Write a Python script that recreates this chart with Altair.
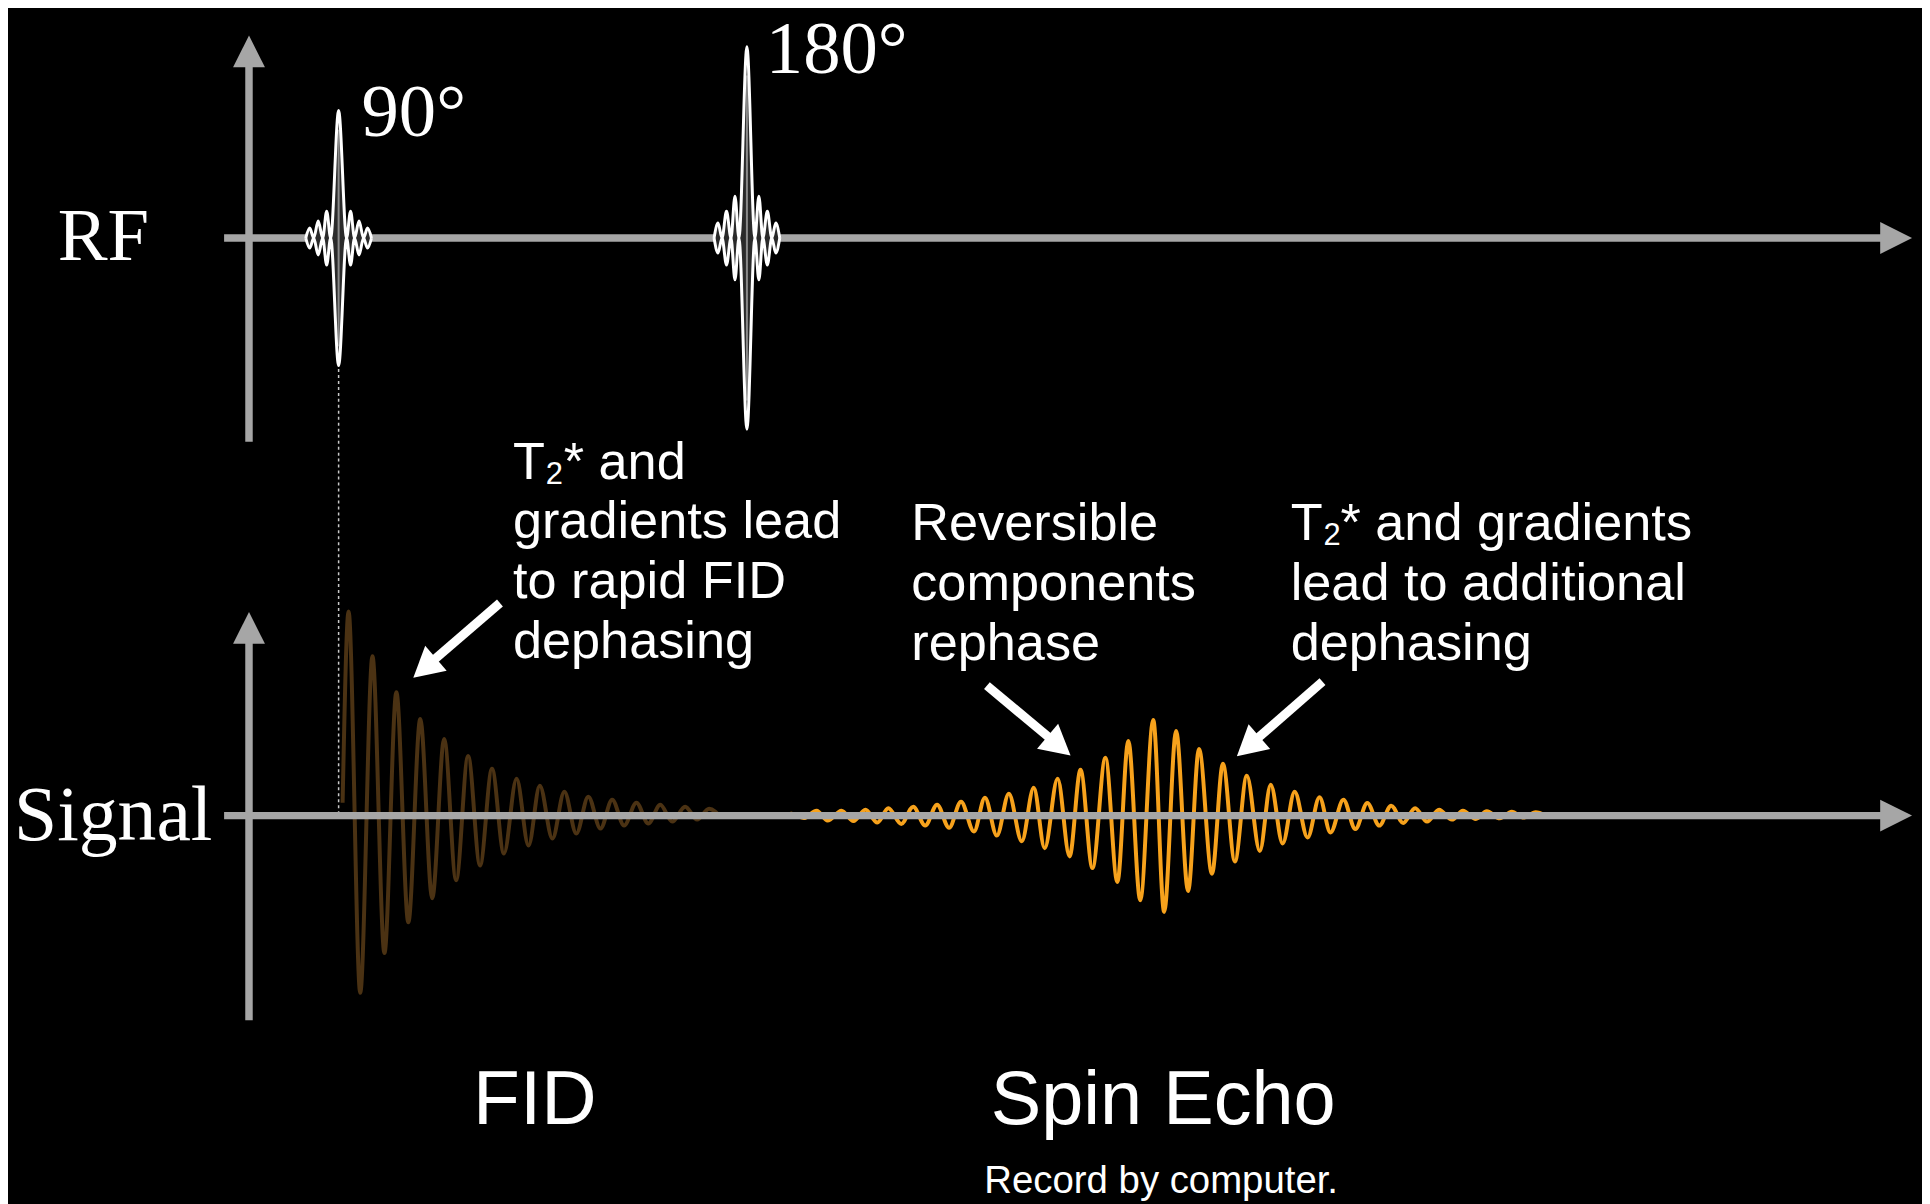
import altair as alt
import numpy as np
import pandas as pd

# ---------------- values ----------------
# FID: extremum times and amplitudes (relative to the Signal baseline, up = +)
fid_time = [344, 350, 361.7, 374, 386, 398, 410, 422, 434, 446, 458, 470, 482, 494, 506,
            518.7, 530.7, 542, 554.7, 566.7, 578.7, 590.7, 603, 614.7, 626.7, 639, 651,
            663, 675, 688, 700, 712, 724]
fid_amplitude = [13, 205, -178, 160, -138, 124, -107, 97, -83, 77, -65, 60, -50, 47, -38,
                 37, -30, 30, -23, 24, -18, 19, -13, 16, -10, 13, -8, 11, -6, 9, -4, 7, -2]

# Spin echo: extremum times and amplitudes
echo_time = [783, 795, 807, 820, 831, 845, 857, 869, 881, 892, 905, 917, 929, 941, 953, 965,
             978, 989, 1001, 1013, 1026, 1038, 1049, 1062, 1074, 1085, 1097, 1110, 1122,
             1133, 1145, 1158, 1169, 1181, 1193, 1204, 1217, 1228, 1240, 1252, 1265, 1276,
             1288, 1300, 1313, 1325, 1336, 1349, 1361, 1373, 1385, 1397, 1409, 1421, 1433,
             1445, 1458, 1469, 1482, 1493, 1506, 1518, 1530, 1542, 1552]
echo_amplitude = [0, 2, -2.5, 5, -5, 5, -5.5, 6, -7, 7.5, -8.3, 9, -10, 11, -12.3, 14,
                  -16, 18, -20, 22, -25.7, 28, -32.7, 37, -41, 46, -52.7, 58, -66.7,
                  75, -85, 96, -96.7, 85, -75.7, 67, -58.3, 52, -46, 40, -35.5, 31,
                  -28, 24, -22, 18.5, -17, 16, -13.5, 12.7, -10, 10, -7.3, 7.5, -6,
                  6, -4, 5, -3.3, 4.3, -2.7, 4, -2, 3.3, 0]

# RF pulses: envelope (lobe peaks and zeros) around each pulse centre
pulse_offset = [-33, -29, -25, -20.5, -16, -12, -8, 0, 8, 12, 16, 20.5, 25, 29, 33]
pulse90_envelope = [0, 10, 0, 17, 0, 27, 0, 128, 0, 27, 0, 17, 0, 10, 0]
pulse180_envelope = [0, 15, 0, 27, 0, 42, 0, 192, 0, 42, 0, 27, 0, 15, 0]
pulse_time = [340, 750]
pulse_names = ["90°", "180°"]

row_names = ["RF", "Signal"]
note_fid = ["gradients lead", "to rapid FID", "dephasing"]
note_rev = ["Reversible", "components", "rephase"]
note_add = ["lead to additional", "dephasing"]
captions = ["FID", "Spin Echo", "Record by computer."]

# ---------------- layout / style ----------------
W, H = 1922, 1196
M = 8
RF_Y, SIG_Y = 236.5, 816.5
AXIS_X = 250
GREY = "#a6a6a6"
BROWN = "#4b3213"
ORANGE = "#f7a21c"
SANS = "Liberation Sans"
SERIF = "Liberation Serif"

xs = alt.Scale(domain=[M, M + W], nice=False, zero=False)
ys = alt.Scale(domain=[M, M + H], nice=False, zero=False, reverse=True)


def X(f):
    return alt.X(f"{f}:Q", scale=xs, axis=None)


def Y(f):
    return alt.Y(f"{f}:Q", scale=ys, axis=None, stack=None)


layers = []

# signals
fid_df = pd.DataFrame({"t": fid_time, "y": SIG_Y - np.array(fid_amplitude)})
layers.append(alt.Chart(fid_df).mark_line(color=BROWN, strokeWidth=4, interpolate="monotone")
              .encode(x=X("t"), y=Y("y")))
echo_df = pd.DataFrame({"t": echo_time, "y": SIG_Y - np.array(echo_amplitude)})
layers.append(alt.Chart(echo_df).mark_line(color=ORANGE, strokeWidth=4, interpolate="monotone")
              .encode(x=X("t"), y=Y("y")))

# dotted guide from 90° pulse down to signal
guide_df = pd.DataFrame({"x": [pulse_time[0]], "y0": [368], "y1": [813]})
layers.append(alt.Chart(guide_df).mark_rule(color="#c8c8c8", strokeWidth=1.5, strokeDash=[3, 3])
              .encode(x=X("x"), y=Y("y0"), y2="y1:Q"))

# axes
h_df = pd.DataFrame({"x0": [225, 225], "x1": [1898, 1898], "y": [RF_Y, SIG_Y]})
layers.append(alt.Chart(h_df).mark_rule(color=GREY, strokeWidth=7.5)
              .encode(x=X("x0"), x2="x1:Q", y=Y("y")))
v_df = pd.DataFrame({"x": [AXIS_X, AXIS_X], "y0": [441, 1022], "y1": [58, 637]})
layers.append(alt.Chart(v_df).mark_rule(color=GREY, strokeWidth=7.5)
              .encode(x=X("x"), y=Y("y0"), y2="y1:Q"))
rh_df = pd.DataFrame({"x": [1920 - 16, 1920 - 16], "y": [RF_Y, SIG_Y]})
layers.append(alt.Chart(rh_df).mark_point(shape="M1,0L-1,-1L-1,1Z", filled=True, size=1024,
                                          color=GREY, opacity=1, strokeWidth=0)
              .encode(x=X("x"), y=Y("y")))
uh_df = pd.DataFrame({"x": [AXIS_X, AXIS_X], "y": [33 + 16, 612 + 16]})
layers.append(alt.Chart(uh_df).mark_point(shape="M0,-1L1,1L-1,1Z", filled=True, size=1024,
                                          color=GREY, opacity=1, strokeWidth=0)
              .encode(x=X("x"), y=Y("y")))

# RF pulses
for c, env in zip(pulse_time, [pulse90_envelope, pulse180_envelope]):
    env = np.array(env, dtype=float)
    pdf = pd.DataFrame({"t": c + np.array(pulse_offset), "top": RF_Y - env, "bot": RF_Y + env})
    layers.append(alt.Chart(pdf).mark_area(interpolate="monotone", color="#2a2a2a", opacity=1)
                  .encode(x=X("t"), y=Y("top"), y2="bot:Q"))
    cl = pd.DataFrame({"x": [c], "y0": [RF_Y - env.max() * 0.85], "y1": [RF_Y + env.max() * 0.85]})
    layers.append(alt.Chart(cl).mark_rule(color="#8a8a8a", strokeWidth=2)
                  .encode(x=X("x"), y=Y("y0"), y2="y1:Q"))
    for col in ["top", "bot"]:
        layers.append(alt.Chart(pdf).mark_line(interpolate="monotone", color="white", strokeWidth=3)
                      .encode(x=X("t"), y=Y(col)))

# annotation arrows
arrow_tail_x = np.array([502, 991, 1328], dtype=float)
arrow_tail_y = np.array([603, 686, 682], dtype=float)
arrow_tip_x = np.array([415, 1075, 1242], dtype=float)
arrow_tip_y = np.array([678, 756, 757], dtype=float)
dx, dy = arrow_tip_x - arrow_tail_x, arrow_tip_y - arrow_tail_y
ln = np.hypot(dx, dy)
ux, uy = dx / ln, dy / ln
shaft = pd.DataFrame({"x0": arrow_tail_x, "y0": arrow_tail_y,
                      "x1": arrow_tip_x - 22 * ux, "y1": arrow_tip_y - 22 * uy})
layers.append(alt.Chart(shaft).mark_rule(color="white", strokeWidth=9)
              .encode(x=X("x0"), y=Y("y0"), x2="x1:Q", y2="y1:Q"))
heads = pd.DataFrame({"x": arrow_tip_x - 15 * ux, "y": arrow_tip_y - 15 * uy,
                      "angle": (np.degrees(np.arctan2(ux, -uy)) + 360) % 360})
layers.append(alt.Chart(heads).mark_point(shape="M0,-1L1.1,1L-1.1,1Z", filled=True, size=900,
                                          color="white", opacity=1, strokeWidth=0)
              .encode(x=X("x"), y=Y("y"), angle=alt.Angle("angle:Q", scale=None)))

# texts
serif_df = pd.DataFrame({"text": row_names + pulse_names,
                         "x": [58, 14, 363, 769], "y": [258.5, 841, 134, 71],
                         "size": [75, 78, 75, 75]})
layers.append(alt.Chart(serif_df).mark_text(align="left", baseline="alphabetic", font=SERIF,
                                            color="white")
              .encode(x=X("x"), y=Y("y"), text="text:N", size=alt.Size("size:Q", scale=None)))

sans_texts = ["T", "* and"] + note_fid + note_rev + ["T", "* and gradients"] + note_add
sans_x = [515, 566, 515, 515, 515, 915, 915, 915, 1296, 1346, 1296, 1296]
sans_y = [478, 478, 538, 598, 658, 540, 600, 660, 540, 540, 600, 660]
sans_df = pd.DataFrame({"text": sans_texts, "x": sans_x, "y": sans_y})
layers.append(alt.Chart(sans_df).mark_text(align="left", baseline="alphabetic", font=SANS,
                                           fontSize=52.5, color="white")
              .encode(x=X("x"), y=Y("y"), text="text:N"))
sub_df = pd.DataFrame({"text": ["2", "2"], "x": [548, 1329], "y": [483, 545]})
layers.append(alt.Chart(sub_df).mark_text(align="left", baseline="alphabetic", font=SANS,
                                          fontSize=31, color="white")
              .encode(x=X("x"), y=Y("y"), text="text:N"))
cap_df = pd.DataFrame({"text": captions, "x": [537, 1168, 1166], "y": [1126, 1126, 1195],
                       "size": [77, 76, 38.5]})
layers.append(alt.Chart(cap_df).mark_text(align="center", baseline="alphabetic", font=SANS,
                                          color="white")
              .encode(x=X("x"), y=Y("y"), text="text:N", size=alt.Size("size:Q", scale=None)))

chart = alt.layer(*layers).properties(
    width=W, height=H, padding=0,
    autosize=alt.AutoSizeParams(type="none"),
    background="black",
).configure_view(stroke=None)

chart.save("out.html", embed_options={"renderer": "svg", "actions": False})
